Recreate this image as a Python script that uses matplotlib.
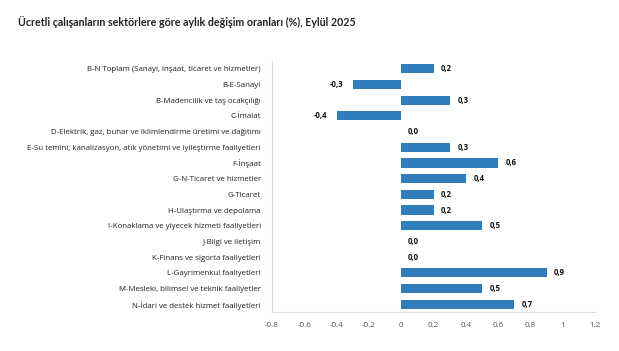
import matplotlib
matplotlib.use("Agg")
import matplotlib.pyplot as plt
import numpy as np

categories = [
    "B-N Toplam (Sanayi, inşaat, ticaret ve hizmetler)",
    "B-E-Sanayi",
    "B-Madencilik ve taş ocakçılığı",
    "C-İmalat",
    "D-Elektrik, gaz, buhar ve iklimlendirme üretimi ve dağıtımı",
    "E-Su temini; kanalizasyon, atık yönetimi ve iyileştirme faaliyetleri",
    "F-İnşaat",
    "G-N-Ticaret ve hizmetler",
    "G-Ticaret",
    "H-Ulaştırma ve depolama",
    "I-Konaklama ve yiyecek hizmeti faaliyetleri",
    "J-Bilgi ve iletişim",
    "K-Finans ve sigorta faaliyetleri",
    "L-Gayrimenkul faaliyetleri",
    "M-Mesleki, bilimsel ve teknik faaliyetler",
    "N-İdari ve destek hizmet faaliyetleri",
]
values = [0.2, -0.3, 0.3, -0.4, 0.0, 0.3, 0.6, 0.4, 0.2, 0.2, 0.5, 0.0, 0.0, 0.9, 0.5, 0.7]
xticks = [-0.8, -0.6, -0.4, -0.2, 0, 0.2, 0.4, 0.6, 0.8, 1, 1.2]
xticklabels = ["-0.8", "-0.6", "-0.4", "-0.2", "0", "0.2", "0.4", "0.6", "0.8", "1", "1.2"]
title = "Ücretli çalışanların sektörlere göre aylık değişim oranları (%), Eylül 2025"

plt.rcParams['font.family'] = ['Open Sans', 'DejaVu Sans']

W, H = 619, 351
fig = plt.figure(figsize=(W / 100, H / 100), dpi=100)
ax = fig.add_axes([272 / W, 1 - 312 / H, (595 - 272) / W, (312 - 61) / H])

y = np.arange(len(categories))
ax.barh(y, values, height=0.58, color="#2f7dba", linewidth=0, zorder=2)
ax.set_ylim(len(categories) - 0.5, -0.5)
ax.set_xlim(-0.8, 1.2)
ax.set_xticks(xticks)
ax.set_xticklabels(xticklabels)
ax.set_yticks(y)
ax.set_yticklabels(categories)
ax.tick_params(axis='y', length=0, pad=8, labelsize=5.65, labelcolor="#222222")
ax.tick_params(axis='x', length=0, pad=7, labelsize=5.8, labelcolor="#555555")

for s in ["top", "right"]:
    ax.spines[s].set_visible(False)
for s in ["left", "bottom"]:
    ax.spines[s].set_color("#dcdcdc")
    ax.spines[s].set_linewidth(0.8)

for yi, v in zip(y, values):
    lbl = f"{v:.1f}".replace(".", ",")
    if v < 0:
        ax.annotate(lbl, (v, yi), xytext=(-7, 0), textcoords="offset points",
                    ha="right", va="center", fontsize=5.6, fontweight="bold", color="#111111")
    else:
        ax.annotate(lbl, (v, yi), xytext=(5.5 if v > 0 else 5, 0), textcoords="offset points",
                    ha="left", va="center", fontsize=5.6, fontweight="bold", color="#111111")

fig.text(18 / W, 1 - 22 / H, title, ha="left", va="center", fontsize=7.7,
         fontweight="bold", color="#222222", family=["Lato", "DejaVu Sans"])

fig.savefig("out.png", dpi=100)
